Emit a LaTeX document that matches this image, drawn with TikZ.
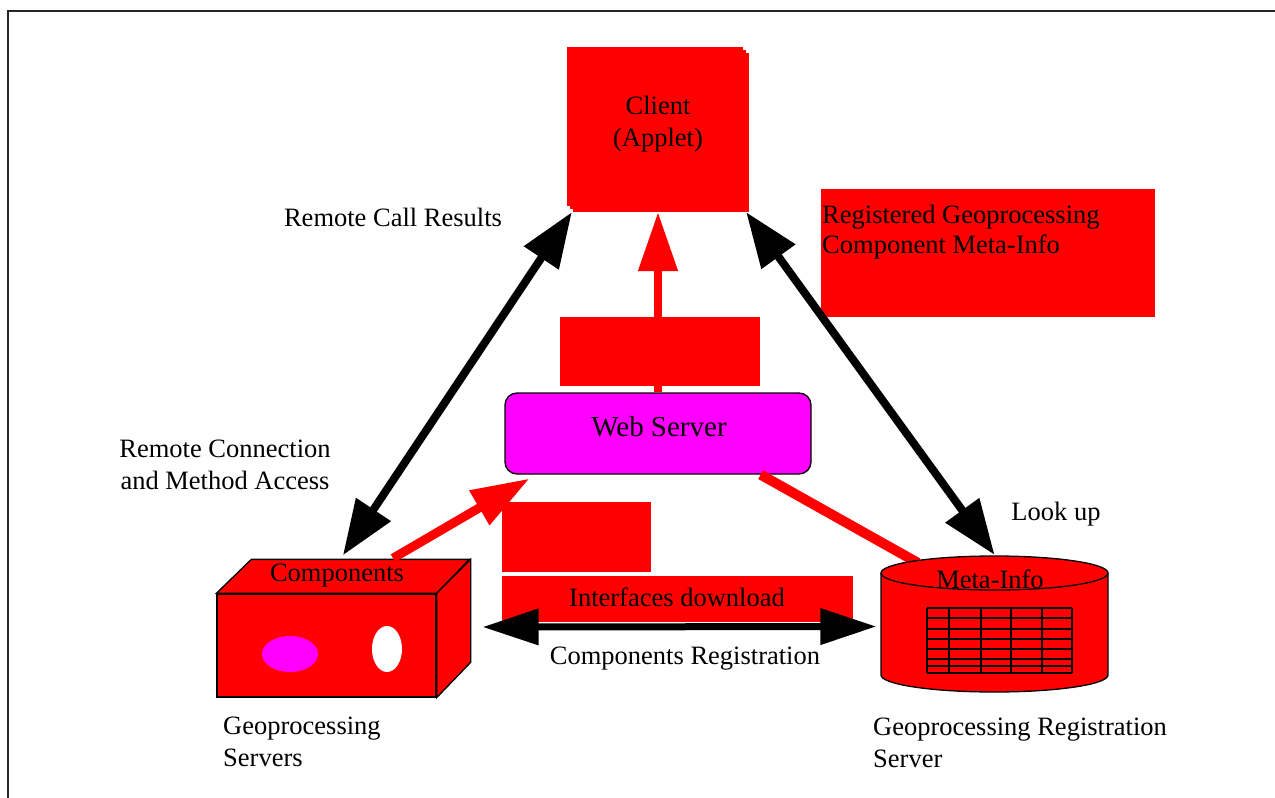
\documentclass[tikz,border=0pt]{standalone}
\usepackage{fontspec}
\setmainfont{Liberation Serif}
\usetikzlibrary{arrows.meta}
\definecolor{roxo}{RGB}{255,0,255}

\begin{document}
\begin{tikzpicture}[x=1pt, y=-1pt,
    every node/.style={font=\fontsize{26.5}{32}\selectfont, inner sep=0pt},
    caixa/.style={fill=red, inner sep=0pt},
    contorno/.style={draw=black, line width=1.3pt},
    seta/.style={line width=8pt, {Triangle[length=55pt,width=40pt]}-{Triangle[length=55pt,width=40pt]}},
    setah/.style={line width=7pt, {Triangle[length=56pt,width=35pt]}-{Triangle[length=56pt,width=35pt]}}]
    \useasboundingbox (0,0) rectangle (1275,798);
    \draw[line width=2pt, black!85] (8,11) rectangle (1295,815); % Moldura
    % Caixas vermelhas
    \node[caixa, minimum width=200, minimum height=69] (tampa) at (660,351.5) {};
    \node[caixa, minimum width=334, minimum height=128] (metabox) at (988,253) {};
    \node[caixa, minimum width=149, minimum height=70] (tampa2) at (576.5,537) {};
    \node[caixa, minimum width=351, minimum height=46] (ifbox) at (677.5,599) {};
    % Cliente
    \foreach \d in {0,3,6}
        \fill[red] (567+\d,47+\d) rectangle (743+\d,206+\d);
    \node[minimum width=182, minimum height=165] (client) at (658,129.5) {};
    % Servidor web
    \node[contorno, fill=roxo, rounded corners=12pt, minimum width=306, minimum height=81] (web) at (658,433.5) {};
    \draw[red, line width=8pt, -{Triangle[length=59pt,width=38pt]}] (web.north) -- (client.south);
    % Componentes
    \node[contorno, fill=red, minimum width=219, minimum height=103] (compfront) at (326.5,645.5) {};
    \filldraw[contorno, fill=red] (compfront.north west) -- ++(35,-34) -- ++(218,0) -- (compfront.north east) -- cycle; % Topo
    \filldraw[contorno, fill=red] (compfront.north east) -- ++(34,-34) -- ++(0,103) -- (compfront.south east) -- cycle; % Lado
    \fill[roxo] (290,654) ellipse[x radius=28pt, y radius=18pt];
    \fill[white] (387,649) ellipse[x radius=15pt, y radius=23pt];
    \node (comptxt) at (337,576) {Components};
    \draw[red, line width=9pt, -{Triangle[length=58pt,width=38pt]}] ([xshift=56pt,yshift=6pt]comptxt.north) -- ([xshift=25pt,yshift=-4pt]web.south west);
    % Servidor de registro (cilindro)
    \node[minimum width=227, minimum height=137] (regserver) at (994.5,623.5) {};
    \draw[red, line width=10pt] ([xshift=-51pt]web.south east) -- ([xshift=37pt,yshift=-8pt]regserver.north west);
    \filldraw[contorno, fill=red] (881,573) -- (881,675) arc[start angle=180, end angle=360, x radius=113.5pt, y radius=17pt]
        -- (1108,573) arc[start angle=0, end angle=180, x radius=113.5pt, y radius=17pt] -- cycle;
    \draw[contorno] (881,573) arc[start angle=180, end angle=360, x radius=113.5pt, y radius=17pt];
    \foreach \x in {927,949,981,1011,1042,1072}
        \draw[contorno] (\x,608) -- (\x,673); % Tabela
    \foreach \y in {608,618,629,639,649,659,666,673}
        \draw[contorno] (927,\y) -- (1072,\y);
    % Setas pretas
    \draw[seta] ([xshift=5pt]client.south west) -- ([xshift=6pt,yshift=9pt]comptxt.north);
    \draw[seta] ([xshift=-3pt]client.south east) -- (regserver.north);
    \draw[setah] ([xshift=46pt,yshift=18.5pt]compfront.east) -- ([xshift=-4.5pt,yshift=-3pt]regserver.west);
    % Textos
    \node[align=center] (clienttxt) at (658,124) {Client\\(Applet)};
    \node[font=\fontsize{29}{34}\selectfont] (webtxt) at (659,427) {Web Server};
    \node[align=left, anchor=west, font=\fontsize{26.5}{30}\selectfont] (metatxt) at (822,232) {Registered Geoprocessing\\Component Meta-Info};
    \node (cyltxt) at (990,579) {Meta-Info};
    \node (iftxt) at (677,597) {Interfaces download};
    \node (regtxt) at (685,659) {Components Registration};
    \node (calltxt) at (393,217) {Remote Call Results};
    \node[align=center] (conntxt) at (225,465) {Remote Connection\\and Method Access};
    \node (lookup) at (1056,514) {Look up};
    \node[align=left, anchor=west] (geotxt) at (223,742) {Geoprocessing\\Servers};
    \node[align=left, anchor=west] (geoserver) at (873,743) {Geoprocessing Registration\\Server};
\end{tikzpicture}
\end{document}
